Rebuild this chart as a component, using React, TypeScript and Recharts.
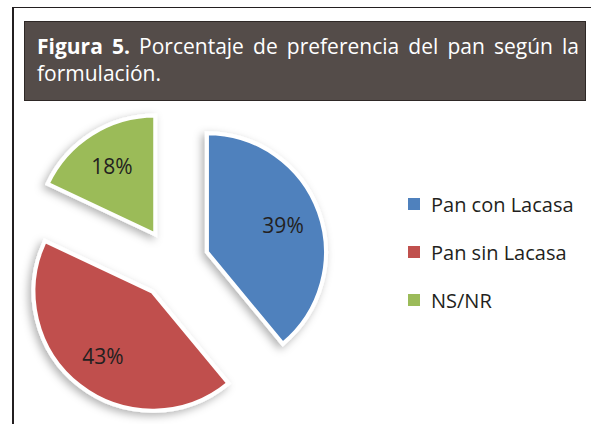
import { PieChart, Pie, Cell, Legend, Sector } from "recharts";

const categories = ["Pan con Lacasa", "Pan sin Lacasa", "NS/NR"];
const percents = [39, 43, 18];
const COLORS = ["#4f81bd", "#c0504d", "#9bbb59"];

const data = categories.map((name, i) => ({ name, value: percents[i] }));

const RAD = Math.PI / 180;
const EXPLODE = 35;
const FONT = "'Open Sans', 'Noto Sans', sans-serif";

// draws the slice pushed out along its mid angle, plus its % label
function ExplodedSlice(props: any) {
  const { cx, cy, midAngle, outerRadius, startAngle, endAngle, index } = props;
  const ux = Math.cos(-midAngle * RAD);
  const uy = Math.sin(-midAngle * RAD);
  const x0 = cx + EXPLODE * ux;
  const y0 = cy + EXPLODE * uy;
  const lr = outerRadius * 0.68;
  return (
    <g>
      <Sector
        cx={x0}
        cy={y0}
        innerRadius={0}
        outerRadius={outerRadius}
        startAngle={startAngle}
        endAngle={endAngle}
        fill={COLORS[index]}
        stroke="#ffffff"
        strokeWidth={4}
        strokeLinejoin="miter"
        filter="url(#pieShadow)"
      />
      <text
        x={x0 + lr * ux}
        y={y0 + lr * uy}
        textAnchor="middle"
        dominantBaseline="central"
        fontFamily={FONT}
        fontSize={21}
        fill="#231f20"
      >
        {percents[index]}%
      </text>
    </g>
  );
}

function LegendList(props: any) {
  // keep the data order, not the alphabetical one
  const items = [...(props.payload || [])].sort(
    (a: any, b: any) => categories.indexOf(a.value) - categories.indexOf(b.value)
  );
  return (
    <ul style={{ listStyle: "none", margin: 0, padding: 0 }}>
      {items.map((it: any) => (
        <li
          key={it.value}
          style={{
            height: 48,
            display: "flex",
            alignItems: "center",
            fontFamily: FONT,
            fontSize: 20,
            color: "#231f20",
          }}
        >
          <span
            style={{
              display: "inline-block",
              width: 12,
              height: 12,
              background: COLORS[categories.indexOf(it.value)],
              marginRight: 11,
            }}
          />
          {it.value}
        </li>
      ))}
    </ul>
  );
}

export default function App() {
  return (
    <div
      style={{
        position: "absolute",
        left: 0,
        top: 0,
        width: 591,
        height: 424,
        background: "#ffffff",
        overflow: "hidden",
      }}
    >
      <svg width={0} height={0} style={{ position: "absolute" }}>
        <defs>
          <filter id="pieShadow" x="-30%" y="-30%" width="160%" height="160%">
            <feDropShadow dx={-3} dy={3} stdDeviation={4} floodColor="#000" floodOpacity={0.3} />
          </filter>
        </defs>
      </svg>

      {/* frame */}
      <div style={{ position: "absolute", left: 12, top: 7, width: 579, height: 1, background: "#231f20" }} />
      <div style={{ position: "absolute", left: 12, top: 7, width: 2, height: 417, background: "#231f20" }} />

      {/* title box */}
      <div
        style={{
          position: "absolute",
          left: 24,
          top: 21,
          width: 560,
          height: 78,
          background: "#544c49",
          border: "1px solid #2e2826",
          color: "#ffffff",
          fontFamily: FONT,
          fontSize: 21,
          lineHeight: "27px",
          boxSizing: "content-box",
        }}
      >
        <div style={{ position: "absolute", left: 12, top: 11, width: 542 }}>
          <div style={{ textAlign: "justify", textAlignLast: "justify", whiteSpace: "nowrap" as any }}>
            <b>Figura 5.</b> Porcentaje de preferencia del pan según la
          </div>
          <div>formulación.</div>
        </div>
      </div>

      <div style={{ position: "absolute", left: 0, top: 0 }}>
        <PieChart width={591} height={424} margin={{ top: 0, right: 0, bottom: 0, left: 0 }}>
          <Pie
            data={data}
            dataKey="value"
            nameKey="name"
            cx={174}
            cy={264}
            outerRadius={119}
            startAngle={90}
            endAngle={-270}
            stroke="none"
            label={ExplodedSlice}
            labelLine={false}
            isAnimationActive={false}
          >
            {data.map((d, i) => (
              <Cell key={d.name} fill={COLORS[i]} fillOpacity={0} />
            ))}
          </Pie>
          <Legend
            layout="vertical"
            align="right"
            verticalAlign="top"
            content={LegendList}
            wrapperStyle={{ position: "absolute", left: 408, top: 180, width: 183 }}
          />
        </PieChart>
      </div>
    </div>
  );
}
